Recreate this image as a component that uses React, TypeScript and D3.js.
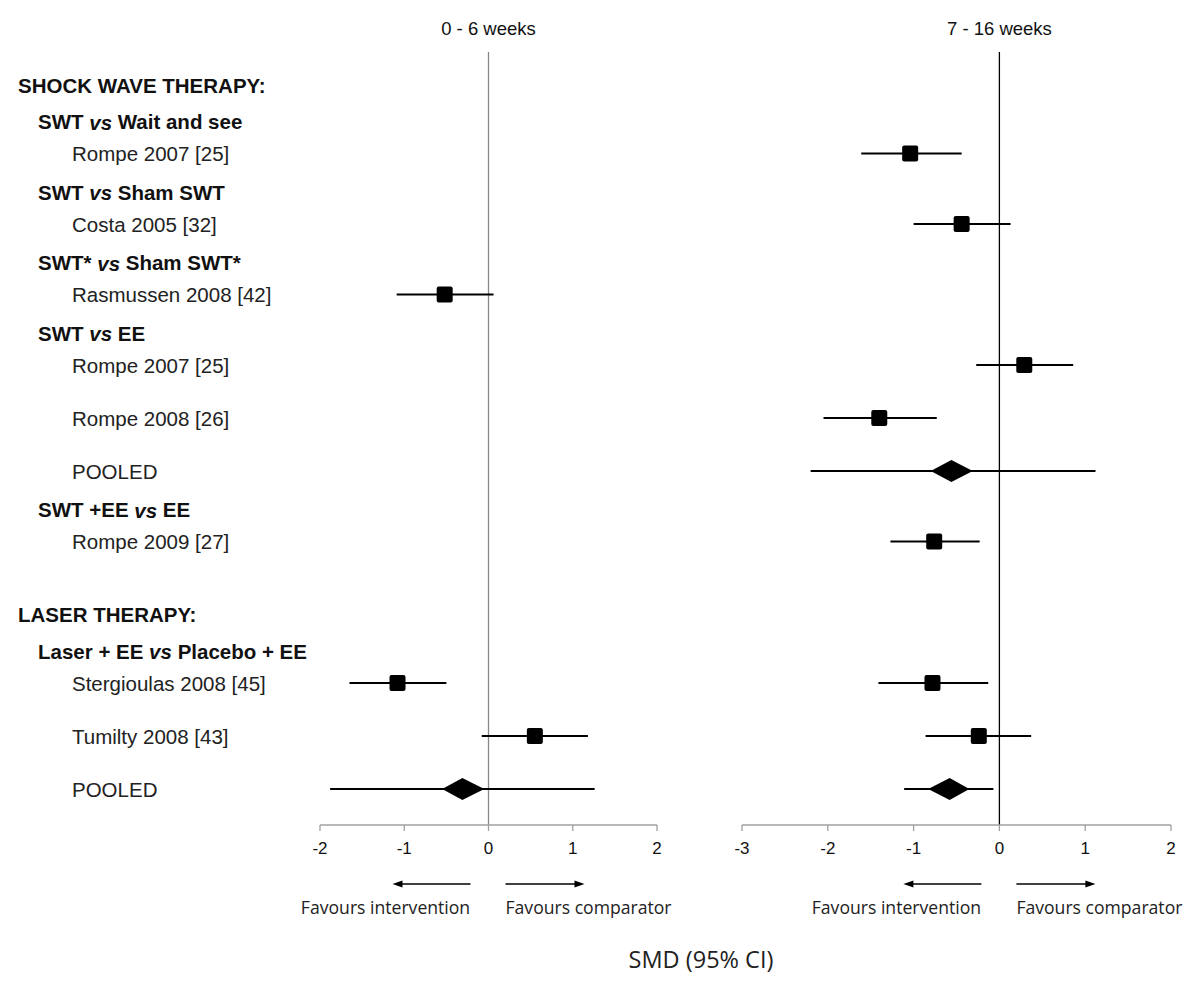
import React from "react";
import * as d3 from "d3";

type Est = { est: number; lo: number; hi: number } | null;

// Row labels and kinds
const rowLabels: string[] = [
  "SHOCK WAVE THERAPY:",
  "SWT|vs|Wait and see",
  "Rompe 2007 [25]",
  "SWT|vs|Sham SWT",
  "Costa 2005 [32]",
  "SWT*|vs|Sham SWT*",
  "Rasmussen 2008 [42]",
  "SWT|vs|EE",
  "Rompe 2007 [25]",
  "Rompe 2008 [26]",
  "POOLED",
  "SWT +EE|vs|EE",
  "Rompe 2009 [27]",
  "LASER THERAPY:",
  "Laser + EE|vs|Placebo + EE",
  "Stergioulas 2008 [45]",
  "Tumilty 2008 [43]",
  "POOLED",
];
const rowKinds: string[] = [
  "main", "sub", "study", "sub", "study", "sub", "study", "sub", "study", "study", "pooled",
  "sub", "study", "main", "sub", "study", "study", "pooled",
];

// 0 - 6 weeks estimates (SMD, 95% CI)
const early: Est[] = [
  null, null, null, null, null, null,
  { est: -0.52, lo: -1.09, hi: 0.06 },
  null, null, null, null, null, null, null, null,
  { est: -1.08, lo: -1.65, hi: -0.50 },
  { est: 0.55, lo: -0.08, hi: 1.18 },
  { est: -0.31, lo: -1.88, hi: 1.26 },
];
// diamond extents for pooled rows (0-6 weeks)
const earlyDiamond: ([number, number] | null)[] = [
  null, null, null, null, null, null, null, null, null, null, null, null, null, null, null, null, null,
  [-0.55, -0.05],
];

// 7 - 16 weeks estimates
const late: Est[] = [
  null, null,
  { est: -1.04, lo: -1.61, hi: -0.44 },
  null,
  { est: -0.44, lo: -1.0, hi: 0.13 },
  null, null, null,
  { est: 0.29, lo: -0.27, hi: 0.86 },
  { est: -1.40, lo: -2.05, hi: -0.73 },
  { est: -0.56, lo: -2.20, hi: 1.12 },
  null,
  { est: -0.76, lo: -1.27, hi: -0.23 },
  null, null,
  { est: -0.78, lo: -1.41, hi: -0.13 },
  { est: -0.24, lo: -0.86, hi: 0.37 },
  { est: -0.58, lo: -1.11, hi: -0.07 },
];
const lateDiamond: ([number, number] | null)[] = [
  null, null, null, null, null, null, null, null, null, null,
  [-0.80, -0.31],
  null, null, null, null, null, null,
  [-0.83, -0.35],
];

const earlyTicks = [-2, -1, 0, 1, 2];
const lateTicks = [-3, -2, -1, 0, 1, 2];
const panelTitles = ["0 - 6 weeks", "7 - 16 weeks"];
const favourLabels = ["Favours intervention", "Favours comparator"];
const axisTitle = "SMD (95% CI)";

// vertical gaps between rows, by transition
function gapFor(prev: string, cur: string): number {
  if (cur === "main") return 73;
  if (cur === "sub") return prev === "main" ? 36.5 : 38.5;
  if (prev === "sub") return 32;
  return 53;
}

export default function App() {
  const W = 1200, H = 985;
  const ys: number[] = [];
  rowLabels.forEach((_, i) => {
    if (i === 0) ys.push(85);
    else ys.push(ys[i - 1] + gapFor(rowKinds[i - 1], rowKinds[i]));
  });

  const axisY = 825;
  const topY = 52;
  const xL = d3.scaleLinear().domain([-2, 2]).range([320, 657]);
  const xR = d3.scaleLinear().domain([-3, 2]).range([742, 1171]);
  const sq = 16;
  const dh = 11;

  const labelFont = "'Liberation Sans', Arial, sans-serif";
  const calFont = "'Open Sans', 'Noto Sans', sans-serif";

  const panel = (
    x: d3.ScaleLinear<number, number>,
    data: Est[],
    diamonds: ([number, number] | null)[],
    ticks: number[],
    title: string,
    zeroColor: string,
    key: string
  ) => {
    const [r0, r1] = x.range();
    const x0 = x(0);
    return (
      <g key={key}>
        <text x={x0} y={28} textAnchor="middle" dominantBaseline="central"
          fontFamily={labelFont} fontSize={18.5} fill="#111">{title}</text>
        <line x1={x0} x2={x0} y1={topY} y2={axisY} stroke={zeroColor} strokeWidth={1.3} />
        <line x1={r0} x2={r1} y1={axisY} y2={axisY} stroke="#a0a0a0" strokeWidth={1.3} />
        {ticks.map((t) => (
          <g key={t}>
            <line x1={x(t)} x2={x(t)} y1={axisY} y2={axisY + 6} stroke="#a0a0a0" strokeWidth={1.3} />
            <text x={x(t)} y={848} textAnchor="middle" dominantBaseline="central"
              fontFamily={labelFont} fontSize={17} fill="#111">{t}</text>
          </g>
        ))}
        {data.map((d, i) => {
          if (!d) return null;
          const y = ys[i];
          const dm = diamonds[i];
          return (
            <g key={i}>
              <line x1={x(d.lo)} x2={x(d.hi)} y1={y} y2={y} stroke="#000" strokeWidth={2} />
              {dm ? (
                <path
                  d={`M${x(dm[0])},${y} L${x(d.est)},${y - dh} L${x(dm[1])},${y} L${x(d.est)},${y + dh} Z`}
                  fill="#000"
                />
              ) : (
                <rect x={x(d.est) - sq / 2} y={y - sq / 2} width={sq} height={sq} rx={2} fill="#000" />
              )}
            </g>
          );
        })}
        {/* favour arrows */}
        <line x1={x0 - 18} x2={x0 - 90} y1={884} y2={884} stroke="#000" strokeWidth={1.3} />
        <path d={`M${x0 - 96},884 L${x0 - 86},880.5 L${x0 - 86},887.5 Z`} fill="#000" />
        <line x1={x0 + 17} x2={x0 + 90} y1={884} y2={884} stroke="#000" strokeWidth={1.3} />
        <path d={`M${x0 + 96},884 L${x0 + 86},880.5 L${x0 + 86},887.5 Z`} fill="#000" />
        <text x={x0 - 103} y={907} textAnchor="middle" dominantBaseline="central"
          fontFamily={calFont} fontSize={17.6} fill="#222">{favourLabels[0]}</text>
        <text x={x0 + 100} y={907} textAnchor="middle" dominantBaseline="central"
          fontFamily={calFont} fontSize={17.6} fill="#222">{favourLabels[1]}</text>
      </g>
    );
  };

  return (
    <svg width={W} height={H} style={{ position: "absolute", left: 0, top: 0, background: "#fff" }}>
      <rect width={W} height={H} fill="#fff" />
      {rowLabels.map((lab, i) => {
        const kind = rowKinds[i];
        const y = ys[i];
        if (kind === "main") {
          return (
            <text key={i} x={18} y={y} dominantBaseline="central" fontFamily={labelFont}
              fontSize={20.5} fontWeight="bold" fill="#111">{lab}</text>
          );
        }
        if (kind === "sub") {
          const parts = lab.split("|");
          return (
            <text key={i} x={38} y={y} dominantBaseline="central" fontFamily={labelFont}
              fontSize={20.5} fontWeight="bold" fill="#111">
              {parts[0]}
              <tspan fontStyle="italic">{" " + parts[1] + " "}</tspan>
              {parts[2]}
            </text>
          );
        }
        return (
          <text key={i} x={72} y={y} dominantBaseline="central" fontFamily={labelFont}
            fontSize={20.5} fill="#222">{lab}</text>
        );
      })}
      {panel(xL, early, earlyDiamond, earlyTicks, panelTitles[0], "#888", "L")}
      {panel(xR, late, lateDiamond, lateTicks, panelTitles[1], "#000", "R")}
      <text x={701} y={959} textAnchor="middle" dominantBaseline="central"
        fontFamily={calFont} fontSize={23.5} fill="#222">{axisTitle}</text>
    </svg>
  );
}
